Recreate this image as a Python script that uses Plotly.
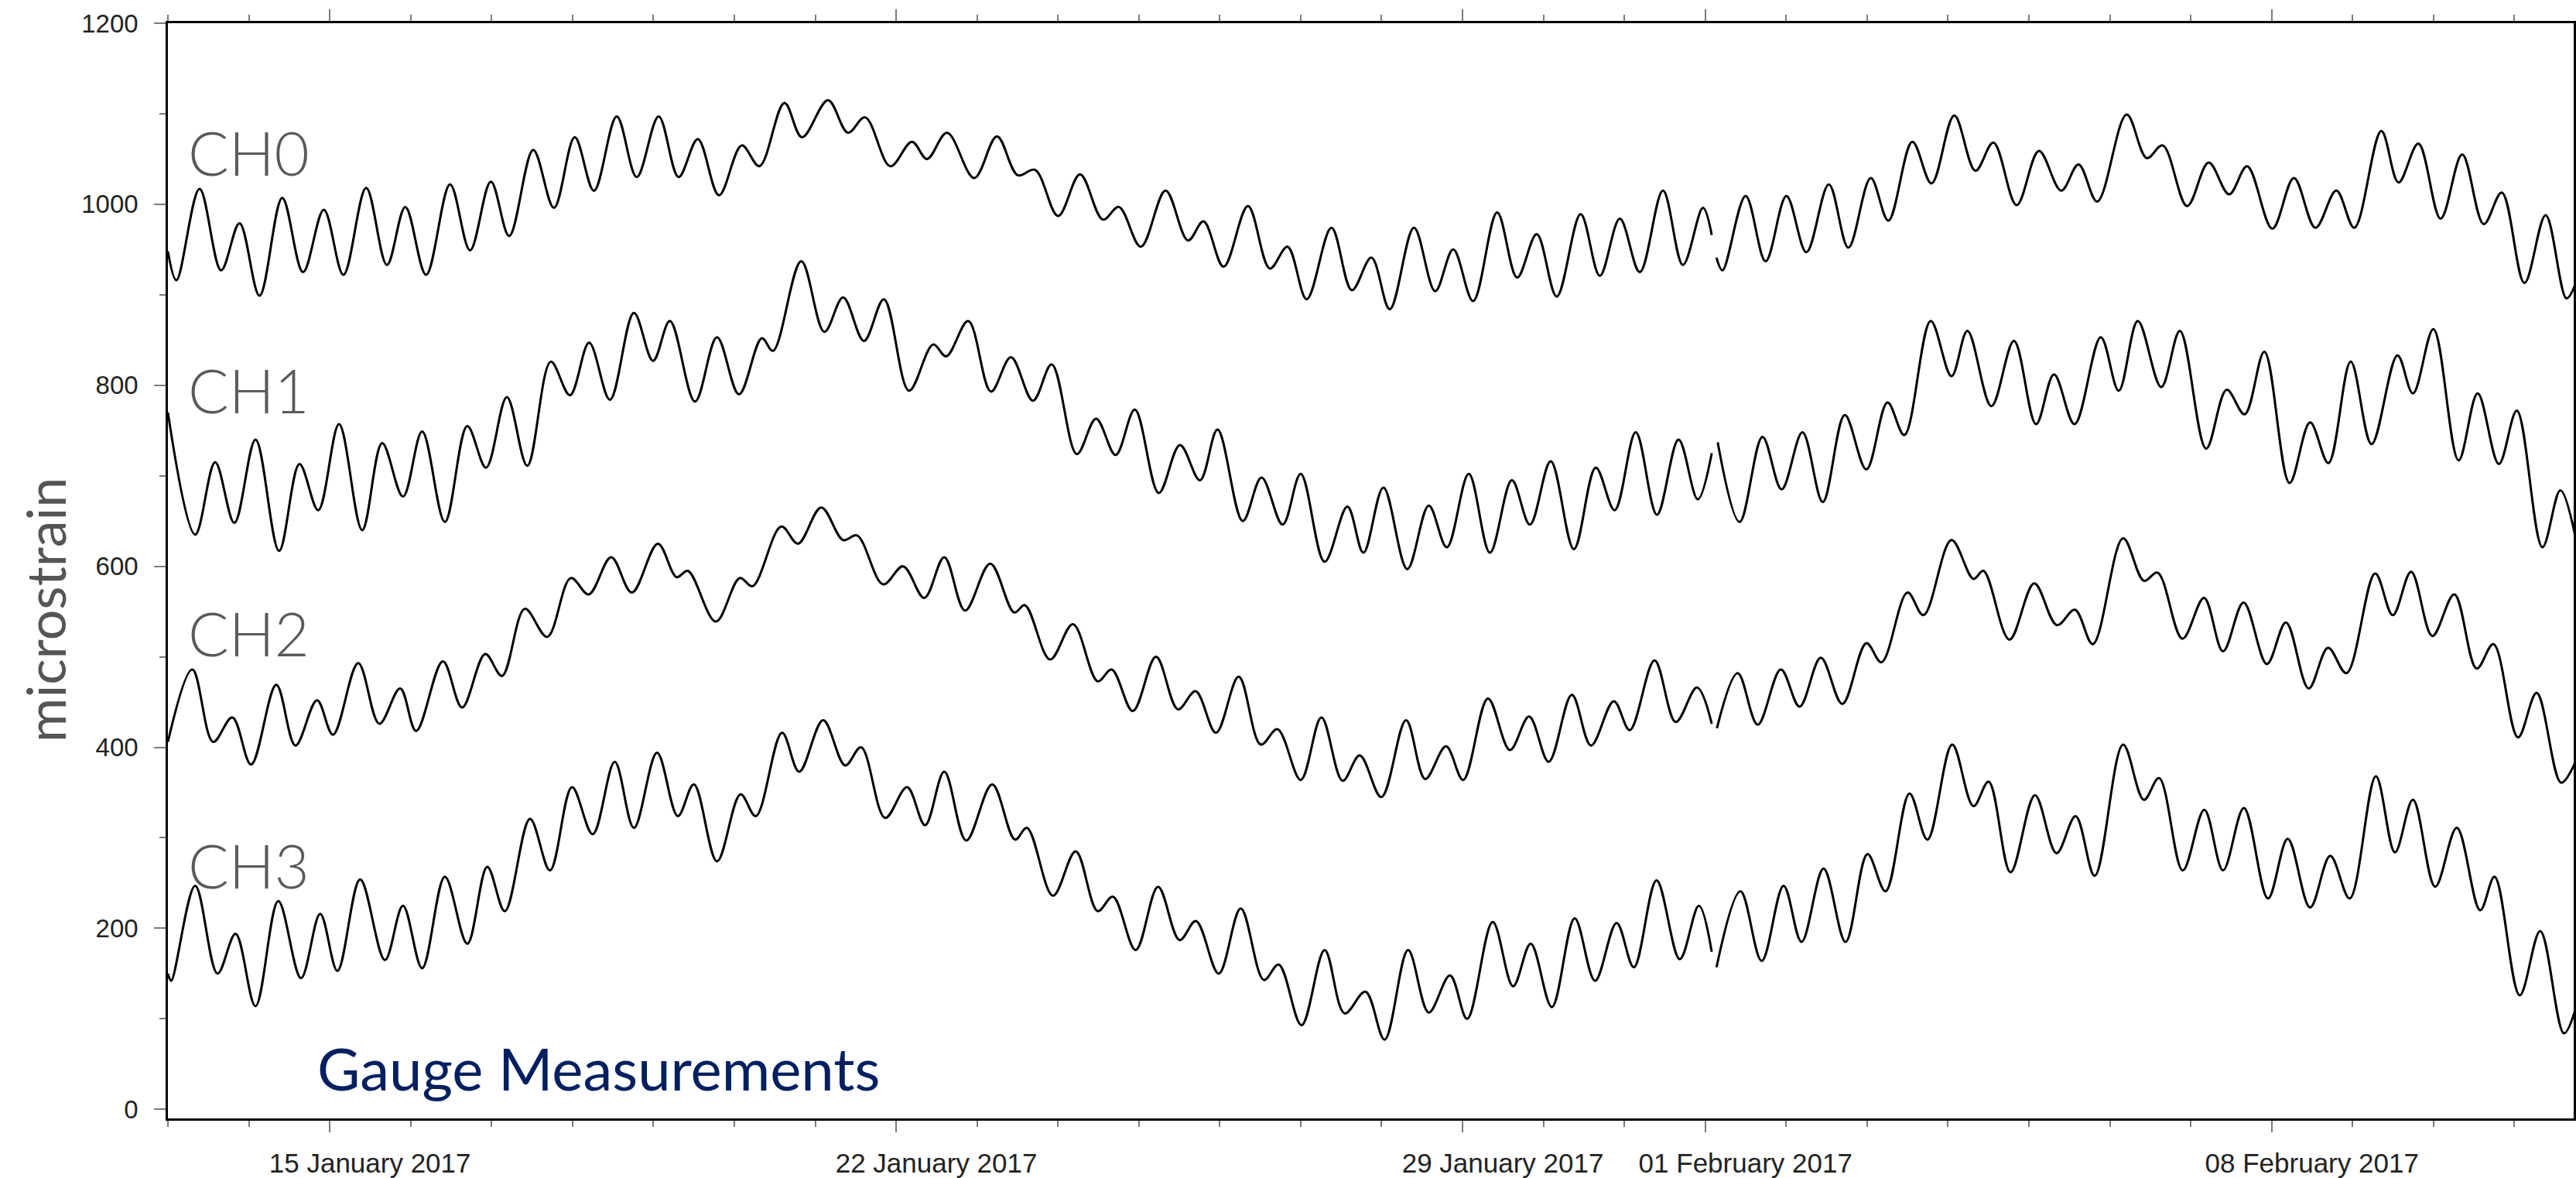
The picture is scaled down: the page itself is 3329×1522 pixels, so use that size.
import pandas as pd
import plotly.graph_objects as go

# Time origin: offsets below are in days from this instant
START = pd.Timestamp("2017-01-13 00:00")
END = pd.Timestamp("2017-02-11 17:35")

# ---- CH0: turning points (days since start, microstrain); None marks the logging gap
ch0_t = [0.0, 0.105, 0.391, 0.658, 0.885, 1.132, 1.413, 1.670, 1.927, 2.169,
         2.450, 2.707, 2.934, 3.191, 3.487, 3.734, 3.991, 4.218, 4.515, 4.771,
         5.028, 5.265, 5.547, 5.794, 6.065, 6.312, 6.549, 6.811, 7.092, 7.310,
         7.619, 7.837, 8.158, 8.404, 8.617, 8.928, 9.195, 9.382, 9.629, 9.965,
         10.246, 10.503, 10.716, 11.002, 11.273, 11.555, 11.753, 12.024, 12.330, 12.607,
         12.799, 13.047, 13.348, 13.619, 13.837, 14.074, 14.380, 14.632, 14.874, 15.101,
         15.400, 15.662, 15.885, 16.131, 16.428, 16.675, 16.917, 17.164, 17.460, 17.697,
         17.944, 18.191, 18.477, 18.724, 18.971, 19.080, 19.110, 19.139, 19.213, 19.499,
         19.746, 20.003, 20.250, 20.527, 20.769, 21.045, 21.263, 21.559, 21.796, 22.077,
         22.339, 22.561, 22.848, 23.124, 23.399, 23.613, 23.844, 24.208, 24.457, 24.653,
         24.955, 25.221, 25.475, 25.697, 26.008, 26.275, 26.541, 26.799, 27.021, 27.355,
         27.568, 27.813, 28.088, 28.355, 28.621, 28.844, 29.124, 29.386, 29.644, 29.760]
ch0_v = [948, 916, 1017, 927, 979, 899, 1007, 925, 994, 922,
         1018, 933, 997, 922, 1022, 949, 1025, 965, 1060, 996,
         1074, 1015, 1097, 1030, 1097, 1030, 1072, 1010, 1065, 1042,
         1112, 1074, 1115, 1079, 1096, 1042, 1069, 1050, 1079, 1029,
         1075, 1032, 1038, 987, 1033, 983, 997, 953, 1015, 960,
         981, 931, 998, 929, 953, 895, 974, 905, 941, 884,
         974, 904, 950, 893, 991, 919, 967, 898, 989, 921,
         984, 925, 1015, 933, 996, 966, None, 941, 927, 1009,
         937, 1009, 947, 1022, 952, 1029, 982, 1069, 1023, 1098,
         1037, 1068, 999, 1059, 1015, 1044, 1003, 1099, 1051, 1065,
         998, 1046, 1011, 1042, 973, 1029, 974, 1015, 974, 1081,
         1024, 1067, 984, 1055, 978, 1013, 913, 988, 896, 913]

# ---- CH1
ch1_t = [0.0, 0.337, 0.584, 0.821, 1.083, 1.374, 1.626, 1.858, 2.115, 2.401,
         2.648, 2.905, 3.142, 3.423, 3.700, 3.932, 4.189, 4.441, 4.732, 4.969,
         5.206, 5.463, 5.759, 5.996, 6.204, 6.514, 6.786, 7.058, 7.340, 7.478,
         7.827, 8.113, 8.345, 8.602, 8.849, 9.160, 9.457, 9.619, 9.891, 10.172,
         10.419, 10.691, 10.923, 11.234, 11.471, 11.713, 11.950, 12.246, 12.508, 12.755,
         12.972, 13.284, 13.516, 13.777, 14.000, 14.296, 14.577, 14.775, 15.022, 15.317,
         15.583, 15.806, 16.077, 16.339, 16.610, 16.833, 17.090, 17.376, 17.647, 17.880,
         18.141, 18.403, 18.670, 18.907, 19.080, 19.110, 19.154, 19.425, 19.707, 19.944,
         20.201, 20.452, 20.724, 20.991, 21.252, 21.460, 21.786, 22.043, 22.240, 22.536,
         22.815, 23.088, 23.310, 23.564, 23.888, 24.110, 24.346, 24.635, 24.866, 25.190,
         25.444, 25.666, 25.910, 26.221, 26.475, 26.701, 26.977, 27.235, 27.555, 27.746,
         27.999, 28.310, 28.546, 28.808, 29.030, 29.346, 29.568, 29.760]
ch1_v = [770, 635, 715, 648, 740, 617, 713, 662, 757, 640,
         736, 677, 749, 649, 755, 709, 787, 711, 826, 789,
         847, 784, 880, 827, 871, 782, 853, 790, 852, 838,
         937, 859, 897, 849, 895, 794, 845, 832, 871, 793,
         831, 783, 823, 724, 763, 723, 773, 681, 734, 695,
         751, 650, 698, 646, 702, 605, 666, 615, 687, 597,
         667, 621, 702, 615, 695, 646, 716, 619, 709, 662,
         748, 657, 740, 674, 725, None, 737, 649, 743, 685,
         748, 671, 767, 707, 781, 745, 871, 810, 860, 777,
         849, 757, 812, 757, 853, 794, 871, 798, 860, 730,
         795, 768, 837, 692, 759, 714, 826, 735, 833, 791,
         862, 717, 791, 713, 772, 621, 684, 630]

# ---- CH2
ch2_t = [0.0, 0.302, 0.559, 0.796, 1.028, 1.339, 1.576, 1.843, 2.040, 2.352,
         2.613, 2.870, 3.068, 3.398, 3.636, 3.922, 4.129, 4.411, 4.687, 4.979,
         5.201, 5.478, 5.734, 6.055, 6.287, 6.426, 6.771, 7.067, 7.225, 7.580,
         7.787, 8.074, 8.345, 8.518, 8.839, 9.086, 9.348, 9.595, 9.852, 10.163,
         10.459, 10.592, 10.903, 11.185, 11.491, 11.664, 11.925, 12.212, 12.483, 12.701,
         12.953, 13.234, 13.506, 13.713, 14.000, 14.256, 14.518, 14.730, 14.997, 15.302,
         15.539, 15.796, 16.008, 16.314, 16.586, 16.823, 17.065, 17.351, 17.588, 17.870,
         18.067, 18.373, 18.635, 18.897, 19.080, 19.110, 19.144, 19.401, 19.648, 19.934,
         20.166, 20.428, 20.694, 20.991, 21.178, 21.499, 21.697, 22.043, 22.314, 22.438,
         22.759, 23.066, 23.346, 23.568, 23.790, 24.164, 24.421, 24.590, 24.897, 25.164,
         25.399, 25.653, 25.941, 26.177, 26.457, 26.697, 26.924, 27.279, 27.497, 27.724,
         27.986, 28.257, 28.533, 28.741, 29.044, 29.275, 29.577, 29.760]
ch2_v = [406, 486, 406, 433, 381, 469, 402, 452, 414, 493,
         426, 465, 418, 495, 444, 503, 479, 553, 522, 587,
         569, 610, 571, 625, 588, 595, 539, 587, 578, 644,
         625, 665, 629, 634, 580, 600, 565, 610, 551, 603,
         549, 557, 497, 536, 473, 486, 440, 500, 442, 462,
         416, 478, 403, 420, 364, 433, 363, 391, 345, 430,
         365, 401, 364, 454, 397, 434, 384, 458, 402, 451,
         419, 496, 428, 466, 426, None, 421, 482, 425, 486,
         445, 499, 448, 515, 494, 571, 546, 629, 586, 595,
         519, 581, 535, 552, 514, 631, 584, 593, 520, 565,
         506, 560, 492, 538, 465, 510, 482, 592, 546, 594,
         523, 569, 487, 514, 411, 460, 361, 385]

# ---- CH3
ch3_t = [0.0, 0.040, 0.337, 0.613, 0.836, 1.082, 1.364, 1.645, 1.882, 2.095,
         2.376, 2.682, 2.905, 3.142, 3.423, 3.700, 3.947, 4.164, 4.475, 4.722,
         4.994, 5.250, 5.522, 5.759, 6.045, 6.302, 6.500, 6.786, 7.077, 7.265,
         7.590, 7.802, 8.098, 8.370, 8.567, 8.864, 9.135, 9.358, 9.595, 9.866,
         10.187, 10.469, 10.617, 10.938, 11.219, 11.491, 11.679, 11.960, 12.237, 12.503,
         12.705, 12.987, 13.259, 13.545, 13.728, 14.010, 14.296, 14.543, 14.800, 15.037,
         15.327, 15.583, 15.845, 16.057, 16.373, 16.625, 16.843, 17.104, 17.386, 17.638,
         17.904, 18.117, 18.398, 18.685, 18.921, 19.080, 19.110, 19.139, 19.435, 19.697,
         19.968, 20.190, 20.462, 20.734, 21.005, 21.228, 21.524, 21.746, 22.052, 22.314,
         22.502, 22.773, 23.075, 23.341, 23.577, 23.813, 24.164, 24.421, 24.608, 24.901,
         25.168, 25.399, 25.657, 25.955, 26.199, 26.475, 26.724, 26.964, 27.288, 27.524,
         27.746, 28.021, 28.288, 28.577, 28.755, 29.066, 29.319, 29.612, 29.760]
ch3_v = [150, 142, 247, 150, 194, 114, 230, 145, 216, 153,
         254, 165, 225, 156, 257, 183, 268, 219, 321, 264,
         356, 304, 384, 311, 394, 324, 359, 274, 348, 324,
         416, 373, 430, 380, 400, 322, 356, 314, 373, 297,
         359, 298, 311, 236, 285, 219, 235, 176, 246, 187,
         208, 150, 222, 143, 160, 93, 176, 106, 130, 77,
         176, 107, 148, 100, 207, 136, 183, 113, 211, 142,
         206, 157, 253, 166, 225, 174, None, 157, 241, 164,
         247, 185, 266, 185, 282, 241, 349, 298, 403, 335,
         362, 262, 347, 283, 324, 258, 403, 342, 366, 264,
         331, 264, 333, 233, 299, 223, 280, 233, 368, 284,
         342, 246, 311, 220, 257, 126, 197, 84, 112]

channel_names = ["CH0", "CH1", "CH2", "CH3"]
channel_t = [ch0_t, ch1_t, ch2_t, ch3_t]
channel_v = [ch0_v, ch1_v, ch2_v, ch3_v]
# where each channel name sits: (days since start, microstrain)
label_pos = [(0.233, 1057), (0.233, 795), (0.233, 526), (0.233, 270)]

# axis ticks
x_tick_dates = ["2017-01-15", "2017-01-22", "2017-01-29", "2017-02-01", "2017-02-08"]
x_tick_text = ["15 January 2017", "22 January 2017", "29 January 2017",
               "01 February 2017", "08 February 2017"]
y_tick_vals = [0, 200, 400, 600, 800, 1000, 1200]

W, H = 3329, 1522
M_L, M_R, M_T, M_B = 217, 0, 30, 64

fig = go.Figure()
for name, t, v in zip(channel_names, channel_t, channel_v):
    assert len(t) == len(v), name
    x = [START + pd.Timedelta(days=d) for d in t]
    fig.add_trace(go.Scatter(
        x=x, y=v, mode="lines", name=name,
        line=dict(color="black", width=3, shape="spline", smoothing=1.0),
        connectgaps=False, showlegend=False, hoverinfo="skip",
    ))

label_font = dict(family="Lato, Open Sans, sans-serif", size=78, color="#5a5a5a", weight=300)
for name, (d, val) in zip(channel_names, label_pos):
    fig.add_annotation(
        x=START + pd.Timedelta(days=d), y=val, xref="x", yref="y",
        text=name, showarrow=False, xanchor="left", yanchor="middle",
        font=label_font,
    )

plot_w = W - M_L - M_R
plot_h = H - M_T - M_B
fig.add_annotation(
    x=(58 - M_L) / plot_w, y=(H - M_B - 795) / plot_h, xref="paper", yref="paper",
    text="microstrain", textangle=-90, showarrow=False,
    xanchor="center", yanchor="middle",
    font=dict(family="Lato, Open Sans, sans-serif", size=70, color="#555555"),
)
fig.add_annotation(
    x=(408 - M_L) / plot_w, y=(H - M_B - 1392) / plot_h, xref="paper", yref="paper",
    text="Gauge Measurements", showarrow=False, xanchor="left", yanchor="middle",
    font=dict(family="Lato, Open Sans, sans-serif", size=76, color="#002060"),
)

x_tick_font = dict(family="Liberation Sans, Arial, sans-serif", size=35, color="#222222")
y_tick_font = dict(family="Liberation Sans, Arial, sans-serif", size=33, color="#222222")
fig.update_xaxes(
    type="date", range=[START, END],
    tickmode="array", tickvals=x_tick_dates, ticktext=x_tick_text,
    ticks="outside", ticklen=15, tickwidth=2, tickcolor="#7a7a7a",
    ticklabelshift=52, ticklabelstandoff=10,
    showline=True, linecolor="black", linewidth=2.5, mirror="allticks",
    showgrid=False, zeroline=False, tickfont=x_tick_font,
    minor=dict(ticks="outside", ticklen=8, tickwidth=2, tickcolor="#7a7a7a",
               tickmode="linear", tick0="2017-01-13", dtick=86400000, showgrid=False),
)
fig.update_yaxes(
    range=[-10, 1200], tickmode="array", tickvals=y_tick_vals,
    ticks="outside", ticklen=15, tickwidth=2, tickcolor="#7a7a7a",
    ticklabelstandoff=14,
    showline=True, linecolor="black", linewidth=2.5, mirror=True,
    showgrid=False, zeroline=False, tickfont=y_tick_font,
    minor=dict(ticks="outside", ticklen=8, tickwidth=2, tickcolor="#7a7a7a",
               tickmode="linear", tick0=0, dtick=100, showgrid=False),
)
fig.update_layout(
    width=W, height=H, autosize=False,
    margin=dict(l=M_L, r=M_R, t=M_T, b=M_B, pad=0),
    paper_bgcolor="white", plot_bgcolor="white",
)

fig.write_html("out.html", post_script="document.body.style.margin='0';")
